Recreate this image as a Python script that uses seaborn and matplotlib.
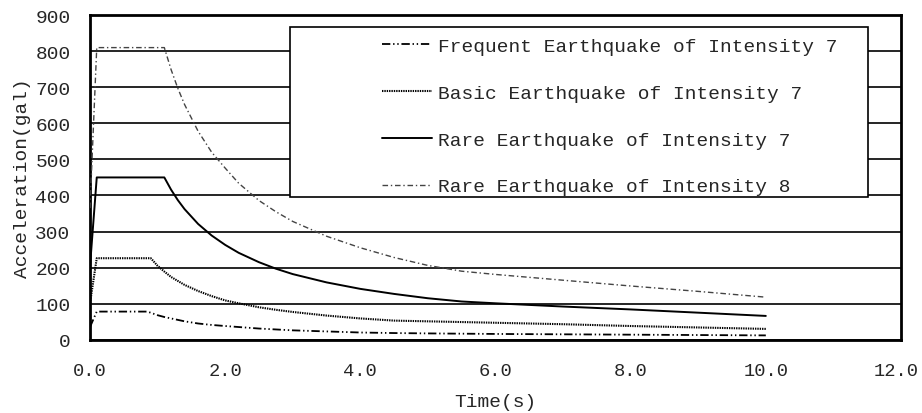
import numpy as np
import pandas as pd
import matplotlib
matplotlib.use('Agg')
import matplotlib.pyplot as plt
import matplotlib.transforms as mtransforms
from matplotlib.patches import Rectangle
import seaborn as sns

# Values (time in s, acceleration in gal)
t_freq7 = [0, 0.1, 0.85, 1.0, 1.1, 1.2, 1.3, 1.4, 1.6, 1.8, 2.0, 2.5, 3.0, 3.5, 4.0, 4.5, 5.0, 6.0, 7.0, 8.0, 9.0, 10.0]
a_freq7 = [35, 78, 78, 68, 63, 59, 55, 51, 45, 41, 38, 31, 26, 23, 20, 18.5, 17.5, 16, 15, 14, 13, 12]

t_basic7 = [0, 0.1, 0.9, 1.0, 1.1, 1.2, 1.4, 1.6, 1.8, 2.0, 2.2, 2.5, 2.75, 3.0, 3.5, 4.0, 4.5, 5.0, 6.0, 7.0, 8.0, 9.0, 10.0]
a_basic7 = [101, 226, 226, 205, 189, 174, 152, 135, 121, 109, 101, 90, 83, 77, 67, 59, 53, 51, 47, 43, 38, 34, 30]

t_rare7 = [0, 0.1, 1.1, 1.2, 1.3, 1.4, 1.6, 1.8, 2.0, 2.2, 2.5, 2.75, 3.0, 3.5, 4.0, 4.5, 5.0, 5.5, 6.0, 7.0, 8.0, 9.0, 10.0]
a_rare7 = [203, 450, 450, 416, 387, 362, 321, 289, 263, 241, 215, 197, 182, 159, 141, 127, 115, 106, 101, 92, 84, 75, 66]

t_rare8 = [0, 0.1, 1.1, 1.2, 1.3, 1.4, 1.6, 1.8, 2.0, 2.2, 2.5, 2.75, 3.0, 3.5, 4.0, 4.5, 5.0, 5.5, 6.0, 7.0, 8.0, 9.0, 10.0]
a_rare8 = [365, 810, 810, 749, 697, 652, 578, 520, 476, 434, 386, 355, 328, 287, 255, 228, 206, 190, 181, 165, 149, 134, 118]

labels = ['Frequent Earthquake of Intensity 7',
          'Basic Earthquake of Intensity 7',
          'Rare Earthquake of Intensity 7',
          'Rare Earthquake of Intensity 8']

x_ticks = [0, 2, 4, 6, 8, 10, 12]
y_ticks = [0, 100, 200, 300, 400, 500, 600, 700, 800, 900]

sns.set_style('white')
plt.rcParams['font.family'] = ['Liberation Mono', 'DejaVu Sans Mono']
plt.rcParams['lines.scale_dashes'] = False

fig = plt.figure(figsize=(9.22, 4.14), dpi=100)
ax = fig.add_axes([0.0976, 0.177, 0.8796, 0.784])

series = [
    (t_freq7, a_freq7, dict(color='black', lw=1.3, linestyle=(0, (6, 2, 1, 2, 1, 2)))),
    (t_basic7, a_basic7, dict(color='black', lw=1.5, linestyle=(0, (1, 0.7)))),
    (t_rare7, a_rare7, dict(color='black', lw=1.4, linestyle='-')),
    (t_rare8, a_rare8, dict(color='#444444', lw=1.0, linestyle=(0, (4, 2, 1, 2)))),
]

for (t, a, style), lab in zip(series, labels):
    df = pd.DataFrame({'Time': t, 'Acc': a})
    sns.lineplot(data=df, x='Time', y='Acc', ax=ax, label=lab, zorder=3, **style)

ax.set_xlim(0, 12)
ax.set_ylim(0, 900)
ax.set_xticks(x_ticks)
ax.set_xticklabels([f'{v:.1f}' for v in x_ticks])
ax.set_yticks(y_ticks)
ax.yaxis.grid(True, color='black', lw=1.2)
ax.set_axisbelow(True)
ax.tick_params(axis='x', direction='in', length=6, width=1, pad=16, labelsize=13.5)
ax.tick_params(axis='y', length=0, pad=14, labelsize=14)
for sp in ax.spines.values():
    sp.set_color('black')
    sp.set_linewidth(2)

# keep the last x label inside the figure
last = ax.get_xticklabels()[-1]
last.set_transform(last.get_transform() + mtransforms.ScaledTranslation(-5 / 100, 0, fig.dpi_scale_trans))

ax.set_xlabel('Time(s)', fontsize=14, labelpad=10)
ax.set_ylabel('Acceleration(gal)', fontsize=14, labelpad=3)

# legend box
ax.add_patch(Rectangle((0.247, 0.44), 0.712, 0.523, transform=ax.transAxes,
                       facecolor='white', edgecolor='black', lw=1.2, zorder=4))
leg = ax.legend(loc='upper left', bbox_to_anchor=(0.338, 0.985), frameon=False,
                fontsize=14, handlelength=2.6, handletextpad=0.3, labelspacing=1.5)
leg.set_zorder(5)

fig.savefig('out.png', dpi=100)
